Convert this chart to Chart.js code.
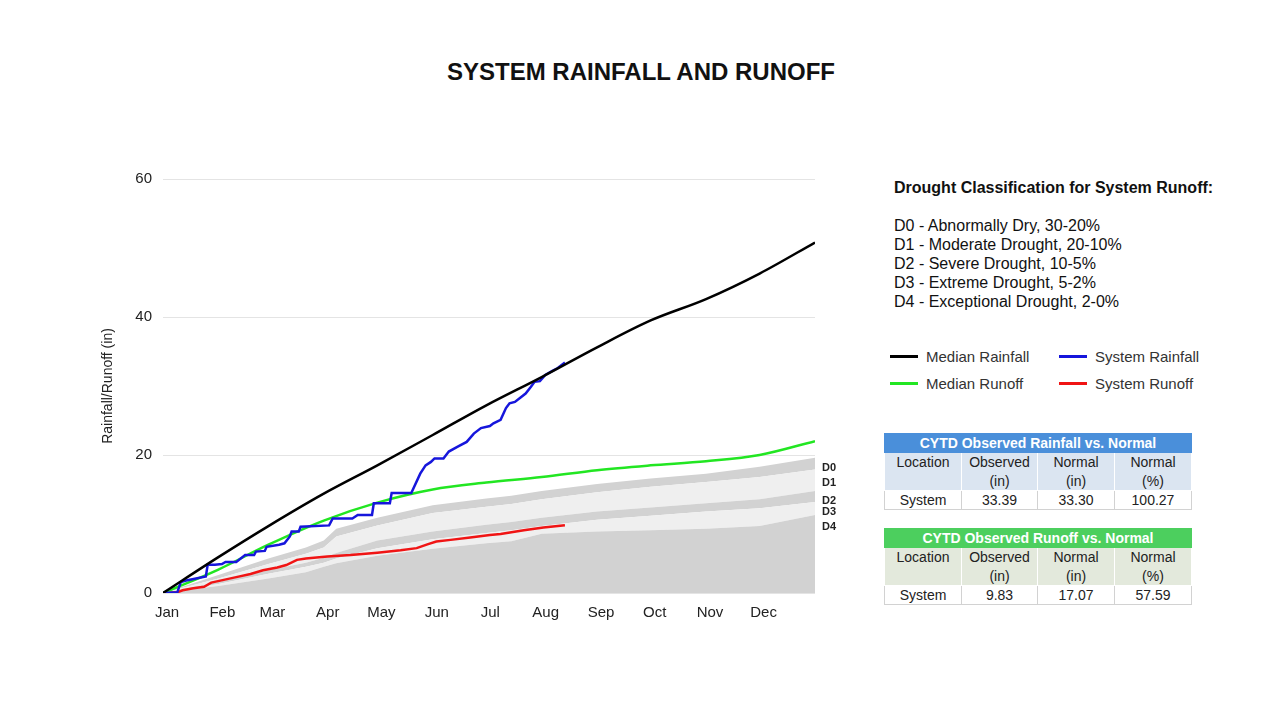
<!DOCTYPE html>
<html>
<head>
<meta charset="utf-8">
<script src="https://cdn.jsdelivr.net/npm/chart.js@4.4.1/dist/chart.umd.min.js"></script>
<style>
  body { margin: 0; width: 1282px; height: 721px; background: #fff; position: relative; overflow: hidden;
         font-family: "Liberation Sans", Arial, sans-serif; color: #111; }
  #title { position: absolute; top: 57px; left: 0; width: 1282px; text-align: center; font-weight: bold; font-size: 24px; line-height: 30px; }
  #chart { position: absolute; left: 0; top: 0; }
  #drought { position: absolute; left: 894px; top: 178px; font-size: 16px; line-height: 19px; white-space: pre; }
  #drought b { font-weight: bold; }
  #legend { position: absolute; left: 890px; top: 343px; width: 330px; font-size: 15px; color: #333; }
  .lg { position: absolute; height: 27px; line-height: 27px; white-space: nowrap; }
  .lg span.sw { position: absolute; left: 0; top: 12px; width: 28px; height: 2.5px; }
  .lg span.tx { position: absolute; left: 36px; top: 0; }
  table { position: absolute; left: 884px; border-collapse: collapse; font-size: 14px; color: #222; table-layout: fixed; }
  td { text-align: center; padding: 0; border: 1px solid #d2d2d2; }
  td.h { color: #fff; font-weight: bold; height: 18px; line-height: 18px; }
  tr.sub td { vertical-align: top; height: 36px; line-height: 18.5px; border-color: #fff; }
  tr.dat td { height: 18px; line-height: 18px; }
</style>
</head>
<body>
<div id="title">SYSTEM RAINFALL AND RUNOFF</div>
<canvas id="chart" width="860" height="650"></canvas>
<div id="drought"></div>
<div id="legend"></div>
<div id="tables"></div>
<script>
Chart.defaults.font.family = "'Liberation Sans', Arial, sans-serif"

const monthLabels = ["Jan", "Feb", "Mar", "Apr", "May", "Jun", "Jul", "Aug", "Sep", "Oct", "Nov", "Dec"]
const monthDays = [0, 31, 59, 90, 120, 151, 181, 212, 243, 273, 304, 334]
const yTicks = [0, 20, 40, 60]

// medians, day of year
const medDays = [0, 31, 59, 90, 120, 151, 181, 212, 243, 273, 304, 334, 365]
const medRain = [0, 5.2, 9.7, 14.4, 18.5, 22.9, 27.2, 31.3, 35.6, 39.5, 42.6, 46.3, 50.8]
const medRunoff = [0, 3.4, 7.0, 10.5, 13.1, 15.0, 16.0, 16.8, 17.8, 18.5, 19.1, 20.0, 22.0]

// observed this year
const rainDays = [0, 8, 10, 13, 24, 25, 29, 33, 35, 41, 46, 51, 52, 57, 58, 65, 68, 71, 72, 76,
    77, 93, 95, 106, 109, 117, 118, 127, 128, 139, 144, 147, 150, 152, 157, 160, 165, 170, 174, 178,
    183, 185, 189, 192, 194, 197, 200, 203, 206, 208, 211, 214, 218, 221, 225]
const rainVals = [0, 0.1, 1.6, 1.8, 2.4, 4.1, 4.1, 4.2, 4.5, 4.5, 5.5, 5.5, 6.0, 6.1, 6.7, 7.0, 7.2, 8.2, 8.9, 8.9,
    9.6, 9.8, 10.8, 10.8, 11.3, 11.3, 13.0, 13.0, 14.5, 14.5, 17.3, 18.5, 19.0, 19.5, 19.5, 20.5, 21.2, 21.9, 23.1, 23.9,
    24.2, 24.6, 25.1, 26.8, 27.5, 27.7, 28.3, 28.9, 29.9, 30.6, 30.7, 31.6, 32.2, 32.6, 33.39]
const runoffDays = [0, 8, 11, 17, 23, 27, 34, 41, 49, 56, 64, 69, 75, 80, 92, 105, 120, 133, 142, 148,
    153, 161, 172, 183, 189, 202, 213, 225]
const runoffVals = [0, 0.1, 0.4, 0.7, 0.9, 1.5, 1.9, 2.3, 2.75, 3.3, 3.7, 4.05, 4.8, 5.0, 5.3, 5.5, 5.85, 6.2, 6.5, 7.05,
    7.45, 7.7, 8.05, 8.4, 8.55, 9.1, 9.5, 9.83]

// drought percentile bands of runoff
const bandDays = [0, 31, 59, 80, 90, 97, 120, 151, 181, 195, 212, 243, 273, 304, 334, 365]
const p30 = [0, 2.6, 5.0, 6.6, 7.6, 9.3, 10.9, 12.7, 13.7, 14.1, 14.8, 15.8, 16.6, 17.3, 18.3, 19.6]
const p20 = [0, 2.1, 4.2, 5.7, 6.6, 8.2, 9.8, 11.6, 12.5, 12.9, 13.6, 14.6, 15.4, 16.1, 16.8, 17.9]
const p10 = [0, 1.6, 3.3, 4.4, 5.1, 5.8, 7.6, 8.9, 9.9, 10.3, 10.9, 11.8, 12.4, 13.0, 13.6, 14.8]
const p5 = [0, 1.3, 2.8, 3.8, 4.4, 5.0, 6.5, 7.8, 8.7, 9.1, 9.7, 10.6, 11.2, 11.8, 12.3, 13.2]
const p2 = [0, 1.0, 2.1, 3.0, 3.8, 4.3, 5.4, 6.4, 7.2, 7.5, 8.6, 8.9, 9.1, 9.3, 9.7, 11.3]
const bandLabels = ["D0", "D1", "D2", "D3", "D4"]
const bandLabelVals = [18.1, 16.0, 13.3, 11.7, 9.5]

const seriesNames = ["Median Rainfall", "System Rainfall", "Median Runoff", "System Runoff"]
const seriesColors = ["#000000", "#1616dc", "#22e622", "#f01414"]

const droughtLines = [
    "D0 - Abnormally Dry, 30-20%",
    "D1 - Moderate Drought, 20-10%",
    "D2 - Severe Drought, 10-5%",
    "D3 - Extreme Drought, 5-2%",
    "D4 - Exceptional Drought, 2-0%",
]

const tableCols = ["Location", "Observed<br>(in)", "Normal<br>(in)", "Normal<br>(%)"]
const rainRow = ["System", "33.39", "33.30", "100.27"]
const runoffRow = ["System", "9.83", "17.07", "57.59"]

const toPoints = (xs, ys) => xs.map((x, i) => ({ x: x, y: ys[i] }))

const DARK = "rgb(210,210,210)"
const LIGHT = "rgb(239,239,239)"

const band = (vals, fill, color) => ({
    data: toPoints(bandDays, vals),
    fill: fill,
    backgroundColor: color,
    borderWidth: 0,
    pointRadius: 0,
    tension: 0,
    order: 1,
})

const line = (xs, ys, idx, smooth) => ({
    label: seriesNames[idx],
    data: toPoints(xs, ys),
    borderColor: seriesColors[idx],
    borderWidth: 2.5,
    pointRadius: 0,
    fill: false,
    cubicInterpolationMode: smooth ? "monotone" : "default",
    tension: smooth ? 0.4 : 0,
    order: 0,
})

const bandLabelPlugin = {
    id: "bandLabels",
    afterDraw(chart) {
        const { ctx, chartArea, scales } = chart
        ctx.save()
        ctx.font = "bold 11px 'Liberation Sans', Arial, sans-serif"
        ctx.fillStyle = "#222"
        ctx.textBaseline = "middle"
        bandLabels.forEach((lbl, i) => {
            ctx.fillText(lbl, chartArea.right + 7, scales.y.getPixelForValue(bandLabelVals[i]))
        })
        ctx.restore()
    },
}

new Chart(document.getElementById("chart"), {
    type: "line",
    data: {
        datasets: [
            band(p2, "origin", DARK),
            band(p5, "-1", LIGHT),
            band(p10, "-1", DARK),
            band(p20, "-1", LIGHT),
            band(p30, "-1", DARK),
            line(medDays, medRain, 0, true),
            line(rainDays, rainVals, 1, false),
            line(medDays, medRunoff, 2, true),
            line(runoffDays, runoffVals, 3, false),
        ],
    },
    options: {
        responsive: false,
        animation: false,
        layout: { padding: { left: 93, top: 179, right: 45, bottom: 17 } },
        plugins: { legend: { display: false }, tooltip: { enabled: false } },
        scales: {
            x: {
                type: "linear",
                min: 0,
                max: 365,
                afterBuildTicks: (scale) => {
                    scale.ticks = monthDays.map((v) => ({ value: v }))
                },
                afterFit: (scale) => {
                    scale.height = 40
                },
                ticks: {
                    autoSkip: false,
                    maxRotation: 0,
                    padding: 3,
                    labelOffset: 4,
                    color: "#222",
                    font: { size: 15 },
                    callback: (value, index) => monthLabels[index],
                },
                grid: { display: false },
                border: { display: false },
            },
            y: {
                min: 0,
                max: 60,
                afterBuildTicks: (scale) => {
                    scale.ticks = yTicks.map((v) => ({ value: v }))
                },
                afterFit: (scale) => {
                    scale.width = 70
                },
                ticks: { padding: 11, color: "#222", font: { size: 15 } },
                grid: { color: "#e4e4e4", drawTicks: false },
                border: { display: false },
                title: {
                    display: true,
                    text: "Rainfall/Runoff (in)",
                    color: "#222",
                    font: { size: 14 },
                    padding: { top: 7, bottom: 0 },
                },
            },
        },
    },
    plugins: [bandLabelPlugin],
})

// drought text
document.getElementById("drought").innerHTML =
    "<b>Drought Classification for System Runoff:</b>\n\n" + droughtLines.join("\n")

// legend, two columns
const legendPos = [[0, 0], [169, 0], [0, 27], [169, 27]]
document.getElementById("legend").innerHTML = seriesNames
    .map((name, i) => {
        const [lx, ly] = legendPos[i]
        return `<div class="lg" style="left:${lx}px;top:${ly}px"><span class="sw" style="background:${seriesColors[i]}"></span><span class="tx">${name}</span></div>`
    })
    .join("")

const makeTable = (top, title, headBg, subBg, row) => {
    const widths = [77, 76, 77, 77]
    return `<table style="top:${top}px">
        <colgroup>${widths.map((w) => `<col style="width:${w}px">`).join("")}</colgroup>
        <tr><td class="h" colspan="4" style="background:${headBg};border-color:${headBg}">${title}</td></tr>
        <tr class="sub">${tableCols.map((c) => `<td style="background:${subBg}">${c}</td>`).join("")}</tr>
        <tr class="dat">${row.map((c) => `<td>${c}</td>`).join("")}</tr>
    </table>`
}

document.getElementById("tables").innerHTML =
    makeTable(433, "CYTD Observed Rainfall vs. Normal", "#4a8fda", "#dbe5f1", rainRow) +
    makeTable(528, "CYTD Observed Runoff vs. Normal", "#4ccf5e", "#e3e9dc", runoffRow)
</script>
</body>
</html>
